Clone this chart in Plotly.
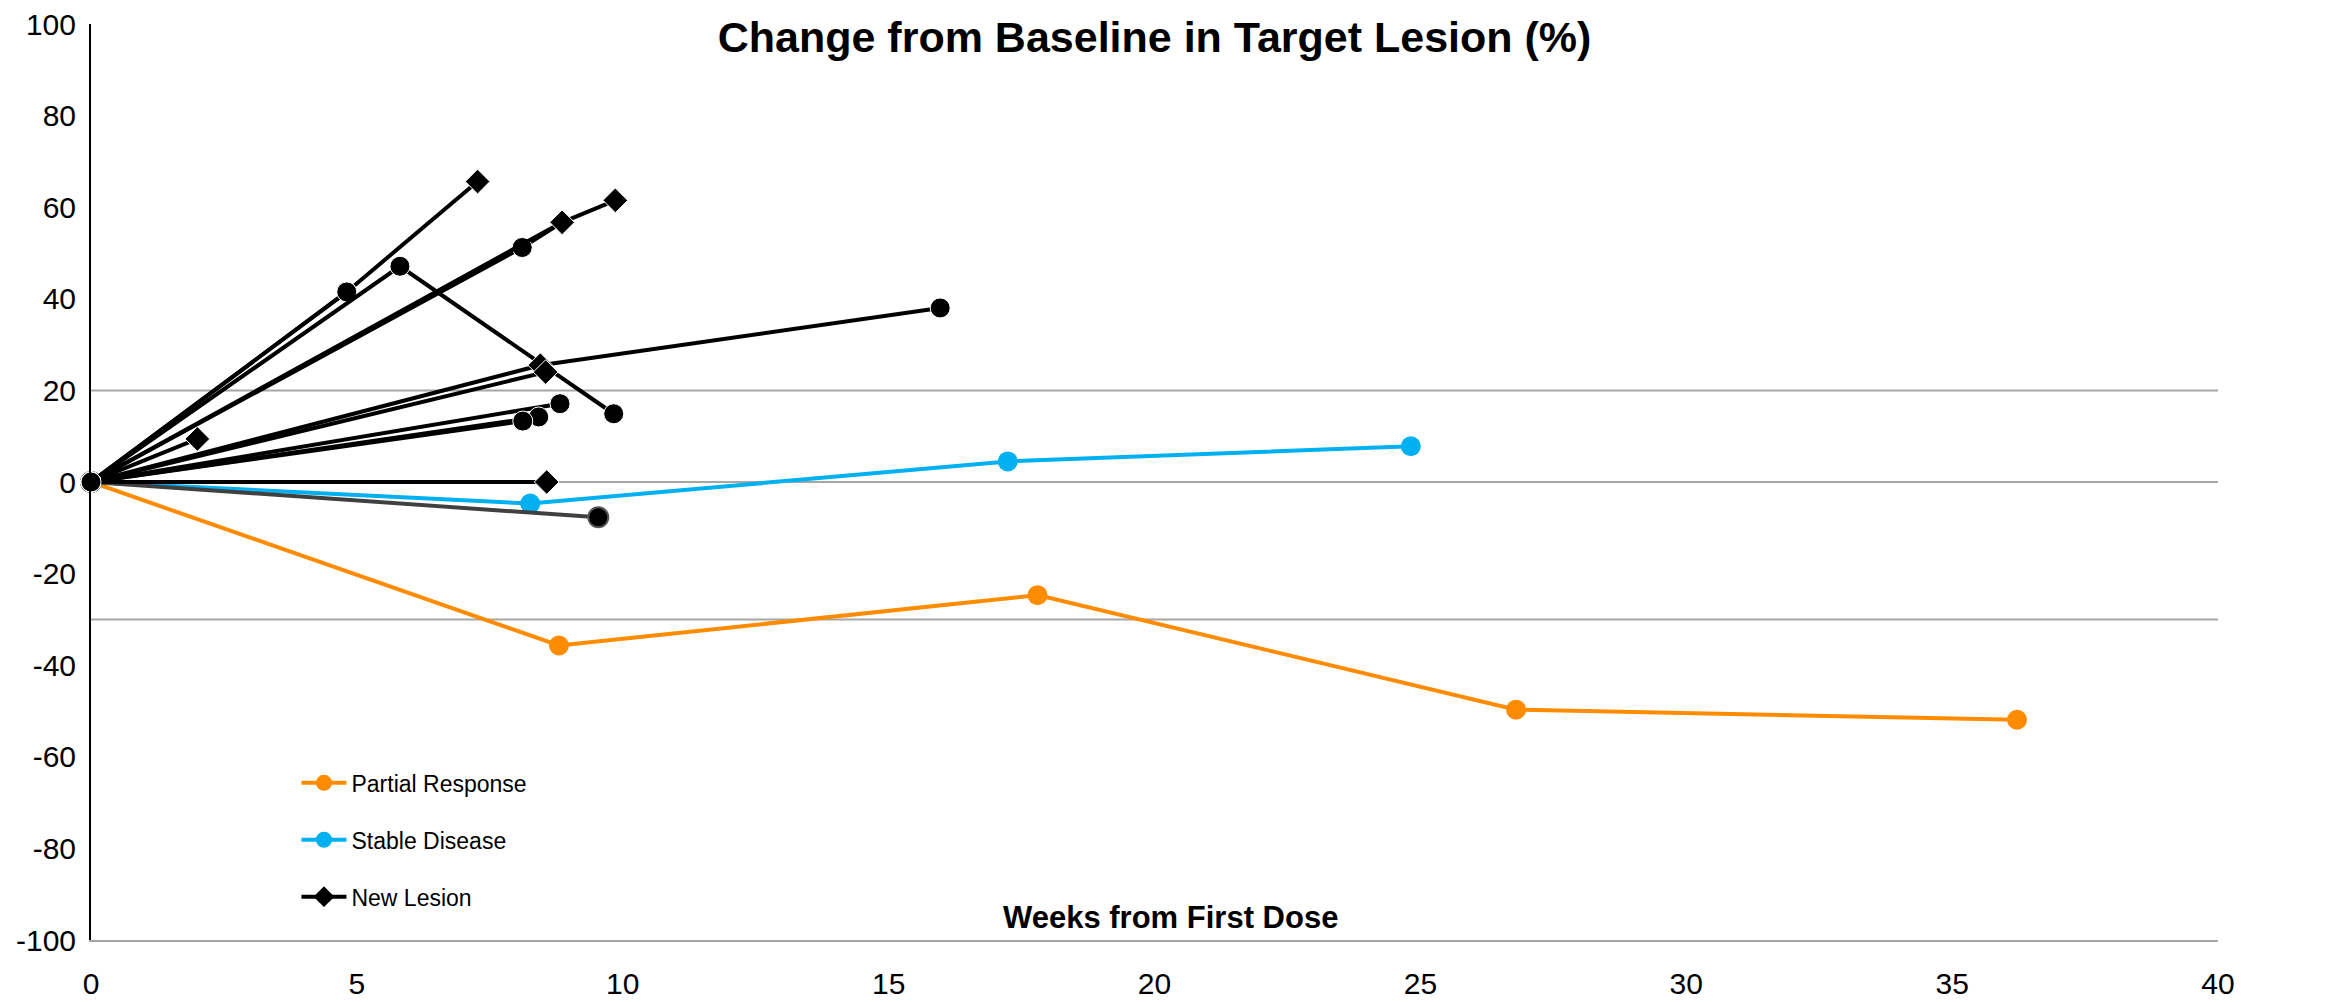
import plotly.graph_objects as go

# ---------------- data ----------------
pr_weeks = [0, 8.80, 17.80, 26.8, 36.22]
pr_change = [0, -35.7, -24.7, -49.7, -51.9]

sd_weeks = [0, 8.26, 17.24, 24.82]
sd_change = [0, -4.7, 4.5, 7.8]

# black patient lines (new lesion flag per visit -> diamond)
nl_weeks = [
    [0, 4.81, 7.27],
    [0, 4.81],
    [0, 5.81, 9.83],
    [0, 8.11, 8.86],
    [0, 8.86, 9.86],
    [0, 2.0],
    [0, 8.45, 15.97],
    [0, 8.55],
    [0, 8.82],
    [0, 8.42],
    [0, 8.12],
    [0, 8.57],
]
nl_change = [
    [0, 41.5, 65.6],
    [0, 41.5],
    [0, 47.1, 14.9],
    [0, 51.2, 56.7],
    [0, 56.7, 61.5],
    [0, 9.4],
    [0, 25.5, 38.0],
    [0, 24.0],
    [0, 17.1],
    [0, 14.2],
    [0, 13.3],
    [0, 0.0],
]
nl_flag = [
    [0, 0, 1],
    [0, 0],
    [0, 0, 0],
    [0, 0, 1],
    [0, 1, 1],
    [0, 1],
    [0, 1, 0],
    [0, 1],
    [0, 0],
    [0, 0],
    [0, 0],
    [0, 1],
]

gray_weeks = [0, 9.54]
gray_change = [0, -7.7]

ref_levels = [20, 0, -30]
ref_labels = {20: "+20%", -30: "-30%"}

x_ticks = [0, 5, 10, 15, 20, 25, 30, 35, 40]
y_ticks = [-100, -80, -60, -40, -20, 0, 20, 40, 60, 80, 100]
y_ticktext = [str(v) for v in y_ticks]

ORANGE = "#FF8C00"
BLUE = "#00B0F0"
FONT = "Liberation Sans, Arial, sans-serif"
LW = 4
CIRC = 20
DIAM = 19

fig = go.Figure()

fig.add_trace(go.Scatter(x=pr_weeks, y=pr_change, mode="lines+markers",
                         line=dict(color=ORANGE, width=LW),
                         marker=dict(symbol="circle", size=CIRC, color=ORANGE, opacity=1),
                         showlegend=False, cliponaxis=False))
fig.add_trace(go.Scatter(x=sd_weeks, y=sd_change, mode="lines+markers",
                         line=dict(color=BLUE, width=LW),
                         marker=dict(symbol="circle", size=CIRC, color=BLUE, opacity=1),
                         showlegend=False, cliponaxis=False))
fig.add_trace(go.Scatter(x=gray_weeks, y=gray_change, mode="lines+markers",
                         line=dict(color="#404040", width=LW),
                         marker=dict(symbol="circle", size=CIRC, color="black", opacity=1,
                                     line=dict(color="#555555", width=2)),
                         showlegend=False, cliponaxis=False))

for wk, ch, fl in zip(nl_weeks, nl_change, nl_flag):
    fig.add_trace(go.Scatter(
        x=wk, y=ch, mode="lines+markers",
        line=dict(color="black", width=LW),
        marker=dict(symbol=["diamond" if f else "circle" for f in fl],
                    size=[DIAM if f else CIRC for f in fl], color="black", opacity=1),
        showlegend=False, cliponaxis=False))

# legend entries
for name, col, sym, grp in [("Partial Response", ORANGE, "circle", "a"),
                            ("Stable Disease", BLUE, "circle", "b"),
                            ("New Lesion", "black", "diamond", "c")]:
    fig.add_trace(go.Scatter(x=[None], y=[None], mode="lines+markers", name=name,
                             legendgroup=grp,
                             line=dict(color=col, width=LW),
                             marker=dict(symbol=sym, size=16, color=col)))

shapes = []
for lv in ref_levels:
    shapes.append(dict(type="line", xref="x", yref="y", x0=0, x1=40, y0=lv, y1=lv,
                       line=dict(color="#A6A6A6", width=2), layer="below"))
annotations = []
for lv, txt in ref_labels.items():
    annotations.append(dict(x=41.1, y=lv, xref="x", yref="y", text=txt, showarrow=False,
                            font=dict(family=FONT, size=31, color="#8C8C8C"),
                            xanchor="center", yanchor="middle"))
annotations.append(dict(x=20.3, y=-95, xref="x", yref="y",
                        text="<b>Weeks from First Dose</b>", showarrow=False,
                        font=dict(family=FONT, size=31, color="black"),
                        xanchor="center", yanchor="middle"))

fig.update_layout(
    width=2331, height=1002,
    paper_bgcolor="white", plot_bgcolor="white",
    margin=dict(l=91, r=113, t=24, b=62, autoexpand=False),
    title=dict(text="<b>Change from Baseline in Target Lesion (%)</b>",
               x=0.4953, xanchor="center", y=0.963, yanchor="middle",
               font=dict(family=FONT, size=43, color="black")),
    font=dict(family=FONT, color="black"),
    shapes=shapes, annotations=annotations,
    legend=dict(x=0.0966, y=0.195, xanchor="left", yanchor="top",
                font=dict(family=FONT, size=23, color="black"),
                tracegroupgap=24, bgcolor="rgba(0,0,0,0)", itemwidth=45),
    xaxis=dict(range=[0, 40], tickvals=x_ticks, showgrid=False, zeroline=False,
               showline=True, linecolor="#A6A6A6", linewidth=2, automargin=False,
               tickfont=dict(family=FONT, size=30, color="black"),
               ticks="", ticklabelstandoff=16),
    yaxis=dict(range=[-100, 100], tickvals=y_ticks, ticktext=y_ticktext,
               showgrid=False, zeroline=False,
               showline=True, linecolor="black", linewidth=2, automargin=False,
               tickfont=dict(family=FONT, size=30, color="black"),
               ticks="", ticklabelstandoff=7),
)

fig.write_html("out.html", config={"displayModeBar": False},
               post_script="document.body.style.margin='0';document.body.style.overflow='hidden';")
